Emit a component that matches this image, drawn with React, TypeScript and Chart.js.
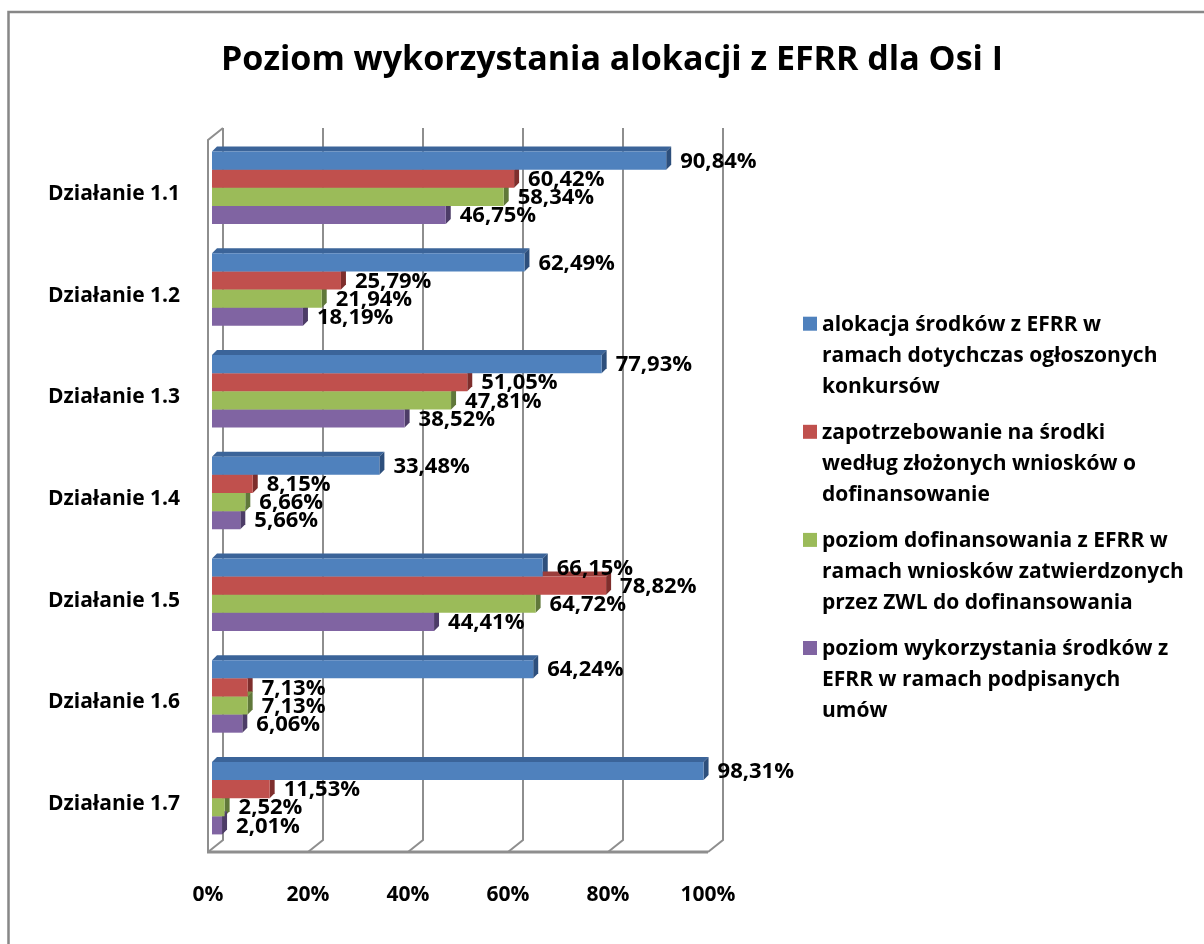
import React, { useEffect, useRef } from "react";
import { Chart, registerables } from "chart.js";

Chart.register(...registerables);

const TITLE = "Poziom wykorzystania alokacji z EFRR dla Osi I";

const categories = [
  "Działanie 1.1",
  "Działanie 1.2",
  "Działanie 1.3",
  "Działanie 1.4",
  "Działanie 1.5",
  "Działanie 1.6",
  "Działanie 1.7",
];

const seriesNames = [
  "alokacja środków z EFRR w ramach dotychczas ogłoszonych konkursów",
  "zapotrzebowanie na środki według złożonych wniosków o dofinansowanie",
  "poziom dofinansowania z EFRR w ramach wniosków zatwierdzonych przez ZWL do dofinansowania",
  "poziom wykorzystania środków z EFRR w ramach podpisanych umów",
];

const legendLines = [
  ["alokacja środków z EFRR w", "ramach dotychczas ogłoszonych", "konkursów"],
  ["zapotrzebowanie na środki", "według złożonych wniosków o", "dofinansowanie"],
  ["poziom dofinansowania z EFRR w", "ramach wniosków zatwierdzonych", "przez ZWL do dofinansowania"],
  ["poziom wykorzystania środków z", "EFRR w ramach podpisanych", "umów"],
];

const allocation = [90.84, 62.49, 77.93, 33.48, 66.15, 64.24, 98.31];
const demand = [60.42, 25.79, 51.05, 8.15, 78.82, 7.13, 11.53];
const cofinancing = [58.34, 21.94, 47.81, 6.66, 64.72, 7.13, 2.52];
const contracted = [46.75, 18.19, 38.52, 5.66, 44.41, 6.06, 2.01];

const xTicks = [0, 20, 40, 60, 80, 100];

const frontColors = ["#4F81BD", "#C0504D", "#9BBB59", "#8064A2"];
const topColors = ["#3B6499", "#9B3E3B", "#7B9646", "#654F83"];
const sideColors = ["#2D4F7C", "#7E2E2C", "#60783A", "#4D3C67"];

const FONT = '"Open Sans", sans-serif';
const GRID = "#8E8E8E";

// geometry of the pseudo-3D box relative to the bar plane (chart area)
const FRONT_DX = -4;
const FRONT_DY = 3;
const DEPTH_DX = 15;
const DEPTH_DY = -12;
const BAR_DX = 5;
const BAR_DY = -5;

const fmt = (v: number) => v.toFixed(2).replace(".", ",") + "%";

const boxPlugin = {
  id: "boxPlugin",
  beforeDraw(chart: any) {
    const { ctx, chartArea } = chart;
    const xs = chart.scales.x;
    ctx.save();
    ctx.fillStyle = "#ffffff";
    ctx.fillRect(0, 0, chart.width, chart.height);

    // outer frame
    ctx.strokeStyle = "#878787";
    ctx.lineWidth = 2.5;
    ctx.strokeRect(8.5, 12, 1400, 1200);

    // title
    ctx.fillStyle = "#000";
    ctx.font = `bold 34px ${FONT}`;
    ctx.textAlign = "center";
    ctx.textBaseline = "alphabetic";
    ctx.fillText(TITLE, 612, 70);

    // walls and grid
    const floorY = chartArea.bottom + FRONT_DY;
    const backFloorY = floorY + DEPTH_DY;
    const frontTop = chartArea.top + FRONT_DY;
    const backTop = frontTop + DEPTH_DY;
    const fx = (v: number) => xs.getPixelForValue(v) + FRONT_DX;

    ctx.strokeStyle = GRID;
    ctx.lineWidth = 2;
    ctx.lineCap = "butt";
    xTicks.forEach((v) => {
      const f = fx(v);
      const b = f + DEPTH_DX;
      ctx.beginPath();
      ctx.moveTo(b, backTop);
      ctx.lineTo(b, backFloorY);
      ctx.lineTo(f, floorY);
      ctx.stroke();
    });
    // left wall
    const l = fx(0);
    ctx.beginPath();
    ctx.moveTo(l, floorY);
    ctx.lineTo(l, frontTop);
    ctx.lineTo(l + DEPTH_DX, backTop);
    ctx.stroke();
    // floor front edge
    ctx.lineWidth = 3;
    ctx.beginPath();
    ctx.moveTo(l - 1, floorY);
    ctx.lineTo(fx(100), floorY);
    ctx.stroke();

    // legend
    ctx.textAlign = "left";
    ctx.textBaseline = "alphabetic";
    ctx.font = `bold 21px ${FONT}`;
    legendLines.forEach((lines, i) => {
      const base = 330.7 + i * 108.1;
      ctx.fillStyle = frontColors[i];
      ctx.fillRect(803, base - 14, 14, 14);
      ctx.fillStyle = "#000";
      lines.forEach((t, j) => ctx.fillText(t, 822, base + j * 31));
    });
    ctx.restore();
  },
  beforeDatasetsDraw(chart: any) {
    const { ctx } = chart;
    ctx.save();
    chart.data.datasets.forEach((ds: any, di: number) => {
      const meta = chart.getDatasetMeta(di);
      meta.data.forEach((el: any) => {
        const { x, y, base, height } = el.getProps(["x", "y", "base", "height"], true);
        const t = y - height / 2;
        const b = y + height / 2;
        ctx.fillStyle = topColors[di];
        ctx.beginPath();
        ctx.moveTo(base, t);
        ctx.lineTo(x, t);
        ctx.lineTo(x + BAR_DX, t + BAR_DY);
        ctx.lineTo(base + BAR_DX, t + BAR_DY);
        ctx.closePath();
        ctx.fill();
        ctx.fillStyle = sideColors[di];
        ctx.beginPath();
        ctx.moveTo(x, t);
        ctx.lineTo(x + BAR_DX, t + BAR_DY);
        ctx.lineTo(x + BAR_DX, b + BAR_DY);
        ctx.lineTo(x, b);
        ctx.closePath();
        ctx.fill();
      });
    });
    ctx.restore();
  },
  afterDatasetsDraw(chart: any) {
    const { ctx } = chart;
    ctx.save();
    ctx.font = `bold 22px ${FONT}`;
    ctx.fillStyle = "#000";
    ctx.textAlign = "left";
    ctx.textBaseline = "middle";
    chart.data.datasets.forEach((ds: any, di: number) => {
      const meta = chart.getDatasetMeta(di);
      meta.data.forEach((el: any, i: number) => {
        const { x, y } = el.getProps(["x", "y"], true);
        ctx.fillText(fmt(ds.data[i]), x + 14, y + 1);
      });
    });
    ctx.restore();
  },
};

export default function App() {
  const ref = useRef<HTMLCanvasElement | null>(null);
  useEffect(() => {
    if (!ref.current) return;
    const tickFont = { family: FONT, size: 21, weight: "bold" as const };
    const chart = new Chart(ref.current, {
      type: "bar",
      data: {
        labels: categories,
        datasets: [allocation, demand, cofinancing, contracted].map((d, i) => ({
          label: seriesNames[i],
          data: d,
          backgroundColor: frontColors[i],
          borderWidth: 0,
          categoryPercentage: 0.713,
          barPercentage: 1,
        })),
      },
      options: {
        responsive: false,
        animation: false,
        indexAxis: "y",
        devicePixelRatio: 1,
        layout: { padding: { left: 0, top: 137, right: 492, bottom: 0 } },
        plugins: {
          legend: { display: false },
          title: { display: false },
          tooltip: { enabled: false },
        },
        scales: {
          x: {
            min: 0,
            max: 100,
            afterBuildTicks: (s: any) => {
              s.ticks = xTicks.map((v) => ({ value: v }));
            },
            ticks: {
              callback: (v: any) => v + "%",
              font: tickFont,
              color: "#000",
              padding: 33,
              labelOffset: -4,
              maxRotation: 0,
              autoSkip: false,
            },
            grid: { display: false, drawTicks: false },
            border: { display: false },
            afterFit: (s: any) => {
              s.height = 95;
            },
          },
          y: {
            ticks: {
              font: tickFont,
              color: "#000",
              padding: 32,
              labelOffset: 6,
            },
            grid: { display: false, drawTicks: false },
            border: { display: false },
            afterFit: (s: any) => {
              s.width = 212;
            },
          },
        },
      },
      plugins: [boxPlugin],
    });
    return () => chart.destroy();
  }, []);
  return (
    <div style={{ position: "absolute", left: 0, top: 0, width: 1204, height: 944, background: "#fff" }}>
      <canvas ref={ref} width={1204} height={944} />
    </div>
  );
}
